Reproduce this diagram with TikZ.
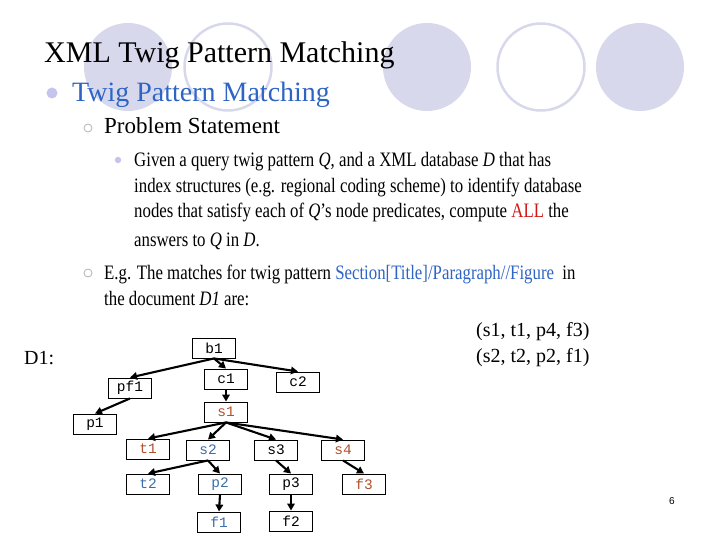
\documentclass[tikz,border=0pt]{standalone}
\usepackage{fontspec}
\setmainfont{Liberation Serif}
\newfontfamily\monof{Liberation Mono}
\newfontfamily\sansf{Liberation Sans}
\usetikzlibrary{arrows.meta}
\definecolor{lav}{HTML}{D8D8EC}
\definecolor{lavb}{HTML}{C4C4EC}
\definecolor{tblue}{HTML}{2E64C4}
\definecolor{nred}{HTML}{B0502C}
\definecolor{nblue}{HTML}{3A6EA8}
\definecolor{allred}{HTML}{D01818}
\newcommand{\cnd}[1]{\scalebox{0.82}[1]{#1}}
\tikzset{
  txt/.style={anchor=base west, inner sep=0pt},
  tnode/.style={draw, line width=0.9pt, minimum width=43pt, minimum height=20pt, inner sep=0pt, font=\monof\fontsize{14.5}{14.5}\selectfont},
  arr/.style={line width=2.1pt, -{Triangle[length=7pt,width=7.5pt]}},
}
\begin{document}
\begin{tikzpicture}[x=1pt,y=-1pt]
\useasboundingbox (0,0) rectangle (720,540);
% decorative circles
\fill[lav] (128,67) circle (44);
\draw[lav, line width=2.5pt] (228,67) circle (43.5);
\fill[lav] (427,67) circle (44);
\draw[lav, line width=2.5pt] (541,67) circle (43.5);
\fill[lav] (640,67) circle (44);
% title
\node[txt, font=\fontsize{30}{36}\selectfont] (title) at (44,63) {XML Twig Pattern Matching};
% level 1
\fill[lavb] (52,93) circle (5.5);
\node[txt, font=\fontsize{28}{32}\selectfont, text=tblue] (l1) at (72,102) {Twig Pattern Matching};
% level 2
\draw[gray!60, line width=0.8pt] (88,128) circle (4);
\node[txt, font=\fontsize{23}{26}\selectfont] (l2a) at (104,134) {Problem Statement};
% level 3
\fill[lavb] (118,160) circle (3.2);
\begin{scope}[every node/.style={txt, font=\fontsize{20.5}{24}\selectfont}]
\node (g1) at (134,167) {\cnd{Given a query twig pattern \textit{Q}, and a XML database \textit{D} that has}};
\node (g2) at (134,193) {\cnd{index structures (e.g. regional coding scheme) to identify database}};
\node (g3) at (134,218) {\cnd{nodes that satisfy each of \textit{Q}’s node predicates, compute \textcolor{allred}{ALL} the}};
\node (g4) at (134,247) {\cnd{answers to \textit{Q} in \textit{D}.}};
\end{scope}
\draw[gray!60, line width=0.8pt] (88,273) circle (4);
\begin{scope}[every node/.style={txt, font=\fontsize{20.5}{24}\selectfont}]
\node (e1) at (104,279) {\cnd{E.g. The matches for twig pattern \textcolor{tblue}{Section[Title]/Paragraph//Figure}\ \ in}};
\node (e2) at (104,305) {\cnd{the document \textit{D1} are:}};
\end{scope}
\begin{scope}[every node/.style={txt, font=\fontsize{20}{24}\selectfont}]
\node (m1) at (476,336) {(s1, t1, p4, f3)};
\node (m2) at (476,362) {(s2, t2, p2, f1)};
\node (d1) at (24,364) {D1:};
\end{scope}
% tree
\node[tnode] (b1) at (214,348) {b1};
\node[tnode] (c1) at (226,379) {c1};
\node[tnode] (c2) at (298,382) {c2};
\node[tnode] (pf1) at (130,388) {pf1};
\node[tnode] (p1) at (95,424) {p1};
\node[tnode, text=nred] (s1) at (226,412) {s1};
\node[tnode, text=nred] (t1) at (148,449) {t1};
\node[tnode, text=nblue] (s2) at (208,450) {s2};
\node[tnode] (s3) at (276,450) {s3};
\node[tnode, text=nred] (s4) at (343,450) {s4};
\node[tnode, text=nblue] (t2) at (148,484) {t2};
\node[tnode, text=nblue] (p2) at (220,484) {p2};
\node[tnode] (p3) at (291,484) {p3};
\node[tnode, text=nred] (f3) at (364,484) {f3};
\node[tnode, text=nblue] (f1) at (219,522) {f1};
\node[tnode] (f2) at (291,521) {f2};
\draw[arr] (b1.south) -- (pf1.north);
\draw[arr] (b1.south) -- (c1.north);
\draw[arr] (b1.south) -- (c2.north);
\draw[arr] (pf1.south) -- (p1.north);
\draw[arr] (c1.south) -- (s1.north);
\draw[arr] (s1.south) -- (t1.north);
\draw[arr] (s1.south) -- (s2.north);
\draw[arr] (s1.south) -- (s3.north);
\draw[arr] (s1.south) -- (s4.north);
\draw[arr] (s2.south) -- (t2.north);
\draw[arr] (s2.south) -- (p2.north);
\draw[arr] (s3.south) -- (p3.north);
\draw[arr] (s4.south) -- (f3.north);
\draw[arr] (p2.south) -- (f1.north);
\draw[arr] (p3.south) -- (f2.north);
% page number
\node[txt, font=\sansf\fontsize{10}{12}\selectfont] (pg) at (669,504) {6};
\end{tikzpicture}
\end{document}
